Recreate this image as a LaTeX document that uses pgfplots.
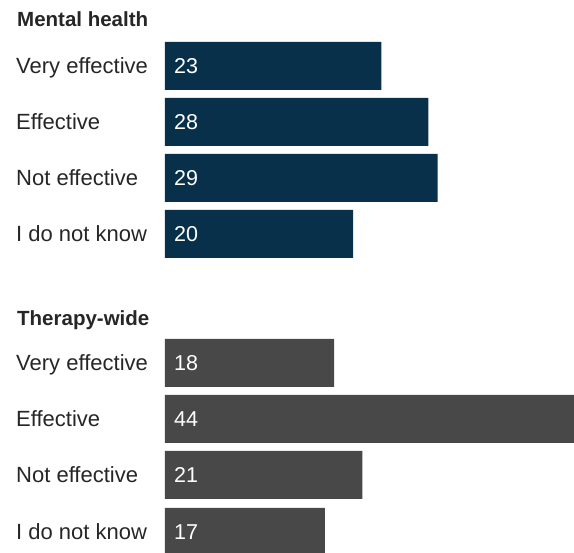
\documentclass[border=0pt]{standalone}
\usepackage{pgfplots}
\pgfplotsset{compat=1.18}
\usepackage{fontspec}
\setmainfont{Liberation Sans}
\definecolor{navy}{HTML}{08304A}
\definecolor{darkgray}{HTML}{484848}
\tikzset{
  lab/.style={anchor=base west, inner sep=0pt, text=black!85, font=\fontsize{22}{25}\selectfont, xshift=-149pt},
  head/.style={anchor=base west, inner sep=0pt, text=black!85, font=\fontsize{20.5}{23}\selectfont\bfseries, xshift=-148pt},
}
\begin{document}
\begin{tikzpicture}
\useasboundingbox (0,0) rectangle (574pt,553pt);
\begin{axis}[
  at={(165pt,0pt)}, anchor=south west,
  scale only axis, width=409pt, height=553pt,
  xmin=0, xmax=43.5, ymin=0, ymax=553, y dir=reverse,
  hide axis, clip=false,
  every node near coord/.append style={font=\fontsize{21.5}{24}\selectfont, text=white, anchor=base west, xshift=9pt, inner sep=0pt},
]
% Mental health
\addplot[xbar, bar shift=0pt, bar width=48, fill=navy, draw=none] coordinates {(23,66) (28,122) (29,178) (20,234)};
% Therapy-wide
\addplot[xbar, bar shift=0pt, bar width=48, fill=darkgray, draw=none] coordinates {(18,363) (44,419) (21,475) (17,532)};
% values
\addplot[draw=none, mark=none, nodes near coords, point meta=explicit symbolic] coordinates {
 (0,73.5)[23] (0,129.5)[28] (0,185.5)[29] (0,241.5)[20]
 (0,370.5)[18] (0,426.5)[44] (0,482.5)[21] (0,539.5)[17]};
% headings and labels
\node[head] at (axis cs:0,27) {Mental health};
\node[head] at (axis cs:0,326) {Therapy-wide};
\node[lab] at (axis cs:0,73.5) {Very effective};
\node[lab] at (axis cs:0,129.5) {Effective};
\node[lab] at (axis cs:0,185.5) {Not effective};
\node[lab] at (axis cs:0,241.5) {I do not know};
\node[lab] at (axis cs:0,370.5) {Very effective};
\node[lab] at (axis cs:0,426.5) {Effective};
\node[lab] at (axis cs:0,482.5) {Not effective};
\node[lab] at (axis cs:0,539.5) {I do not know};
\end{axis}
\end{tikzpicture}
\end{document}
